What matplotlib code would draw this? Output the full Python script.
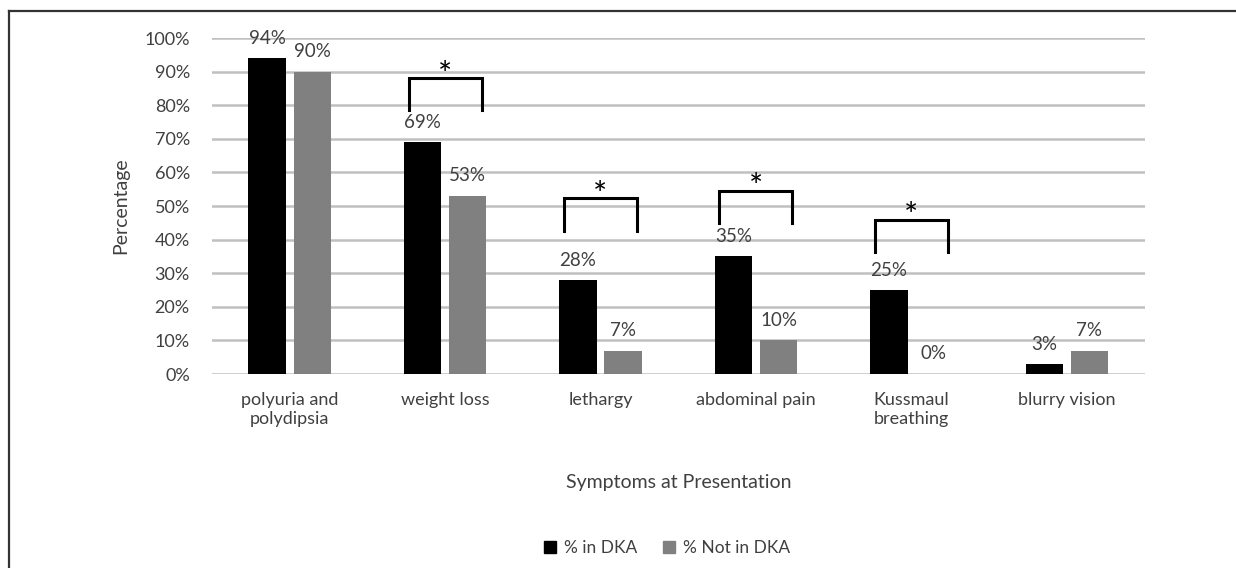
import matplotlib.pyplot as plt
import numpy as np
from matplotlib.lines import Line2D

plt.rcParams['font.family'] = ['Lato', 'DejaVu Sans']

symptoms = ['polyuria and\npolydipsia', 'weight loss', 'lethargy', 'abdominal pain',
            'Kussmaul\nbreathing', 'blurry vision']
in_dka = [94, 69, 28, 35, 25, 3]
not_dka = [90, 53, 7, 10, 0, 7]
# significance brackets: category index, top of bracket, bottom of legs (%)
brackets = [(1, 88, 78.5), (2, 52.3, 42.7), (3, 54.5, 45), (4, 45.8, 36.2)]

fig = plt.figure(figsize=(12.36, 5.68), dpi=100)
ax = fig.add_axes([0.1715, 0.3415, 0.7545, 0.5915])

x = np.arange(len(symptoms))
w = 0.24
off = 0.145
ax.bar(x - off, in_dka, w, color='black', zorder=3)
ax.bar(x + off, not_dka, w, color='#808080', zorder=3)

txt = '#404040'
for i in range(len(symptoms)):
    ax.text(x[i] - off, in_dka[i] + 5.8, f'{in_dka[i]}%', ha='center', va='center',
            fontsize=13.5, color=txt, clip_on=False)
    ax.text(x[i] + off, not_dka[i] + 6, f'{not_dka[i]}%', ha='center', va='center',
            fontsize=13.5, color=txt, clip_on=False)

for i, top, bot in brackets:
    ax.plot([i - 0.235, i - 0.235, i + 0.235, i + 0.235], [bot, top, top, bot],
            color='black', lw=2.2, zorder=4, solid_joinstyle='miter')
    ax.text(i, top + 0.8, '*', ha='center', va='center', fontsize=24, color='black')

ax.set_xlim(-0.5, len(symptoms) - 0.5)
ax.set_ylim(0, 100)
ax.set_yticks(range(0, 101, 10))
ax.set_yticklabels([f'{v}%' for v in range(0, 101, 10)])
ax.set_xticks(x)
ax.set_xticklabels(symptoms)
ax.tick_params(length=0, labelsize=13, labelcolor=txt)
ax.tick_params(axis='y', pad=16)
ax.tick_params(axis='x', pad=13)
ax.grid(axis='y', color='#c0c0c0', lw=1.8, zorder=0)
for s in ax.spines.values():
    s.set_visible(False)

ax.set_ylabel('Percentage', fontsize=14, color=txt, labelpad=11)
ax.set_xlabel('Symptoms at Presentation', fontsize=14, color=txt, labelpad=34)

handles = [Line2D([], [], marker='s', ls='', color='black', markersize=8),
           Line2D([], [], marker='s', ls='', color='#808080', markersize=8)]
fig.legend(handles, ['% in DKA', '% Not in DKA'], loc='center', ncol=2,
           bbox_to_anchor=(0.535, 0.035), frameon=False, fontsize=12.5,
           handletextpad=-0.2, columnspacing=0.8, labelcolor=txt)

# frame lines along top and left edge
fig.add_artist(Line2D([9 / 1236, 1], [1 - 11 / 568, 1 - 11 / 568], color='#333333', lw=1.6))
fig.add_artist(Line2D([9 / 1236, 9 / 1236], [0, 1 - 11 / 568], color='#333333', lw=1.6))

fig.savefig('out.png', dpi=100)
